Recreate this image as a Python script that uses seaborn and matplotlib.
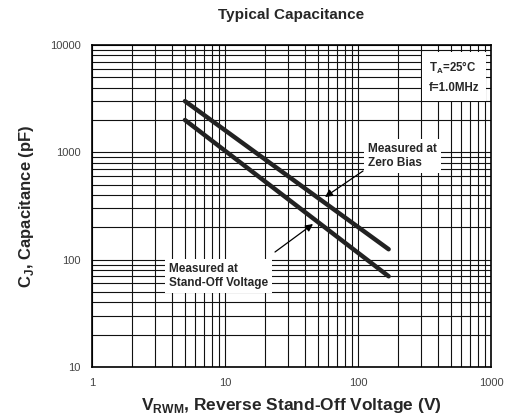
import matplotlib
matplotlib.use("Agg")
import matplotlib.pyplot as plt
import seaborn as sns
import pandas as pd
import numpy as np
from matplotlib.ticker import LogLocator, FixedLocator, NullFormatter, FixedFormatter

# Data
zero_bias_v = [5, 170]
zero_bias_c = [3000, 125]
standoff_v = [5, 170]
standoff_c = [2000, 70]
x_ticks = [1, 10, 100, 1000]
x_tick_labels = ["1", "10", "100", "1000"]
y_ticks = [10, 100, 1000, 10000]
y_tick_labels = ["10", "100", "1000", "10000"]

df = pd.concat([
    pd.DataFrame({"V": zero_bias_v, "C": zero_bias_c, "series": "Zero Bias"}),
    pd.DataFrame({"V": standoff_v, "C": standoff_c, "series": "Stand-Off"}),
])

sns.set_style("white")
plt.rcParams["font.family"] = ["Liberation Sans", "DejaVu Sans"]
plt.rcParams["mathtext.fontset"] = "custom"
plt.rcParams["mathtext.rm"] = "Liberation Sans"
plt.rcParams["mathtext.bf"] = "Liberation Sans:bold"

fig = plt.figure(figsize=(5.10, 4.19), dpi=100)
ax = fig.add_axes([92/510, 1-367/419, 399/510, 322/419])

sns.lineplot(data=df, x="V", y="C", units="series", estimator=None,
             color="#222222", lw=3.2, ax=ax, legend=False)
ax.set_xscale("log")
ax.set_yscale("log")
ax.set_xlim(1, 1000)
ax.set_ylim(10, 10000)

ax.xaxis.set_major_locator(FixedLocator(x_ticks))
ax.xaxis.set_major_formatter(FixedFormatter(x_tick_labels))
ax.yaxis.set_major_locator(FixedLocator(y_ticks))
ax.yaxis.set_major_formatter(FixedFormatter(y_tick_labels))
ax.xaxis.set_minor_locator(LogLocator(base=10, subs=np.arange(2, 10)))
ax.yaxis.set_minor_locator(LogLocator(base=10, subs=np.arange(2, 10)))
ax.xaxis.set_minor_formatter(NullFormatter())
ax.yaxis.set_minor_formatter(NullFormatter())

ax.grid(True, which="both", color="#111111", lw=0.8)
ax.set_axisbelow(True)
ax.tick_params(axis="both", which="major", direction="out", length=5, width=0.8,
               labelsize=8, color="black", labelcolor="#444444", pad=3)
ax.tick_params(axis="both", which="minor", length=0)
for s in ax.spines.values():
    s.set_color("black")
    s.set_linewidth(1.2)

ax.set_title("Typical Capacitance", fontsize=11, fontweight="bold", pad=19)
ax.set_xlabel(r"V$_{\mathbf{RWM}}$, Reverse Stand-Off Voltage (V)", fontsize=12.5,
              fontweight="bold", labelpad=6)
ax.set_ylabel(r"C$_{\mathbf{J}}$, Capacitance (pF)", fontsize=12, fontweight="bold",
              labelpad=10)

def af(px, py):
    return ((px - 92) / 399, (367 - py) / 322)

box = dict(facecolor="white", edgecolor="none", pad=3)
ax.text(*af(429, 77), "T$_{\\mathbf{A}}$=25°C\nf=1.0MHz", transform=ax.transAxes,
        fontsize=8.3, fontweight="bold", ha="left", va="center", linespacing=1.6,
        bbox=dict(facecolor="white", edgecolor="none", pad=5))
ax.text(*af(368, 156), "Measured at\nZero Bias", transform=ax.transAxes,
        fontsize=8.5, fontweight="bold", ha="left", va="center", linespacing=1.25,
        bbox=box)
ax.text(*af(169, 276), "Measured at\nStand-Off Voltage", transform=ax.transAxes,
        fontsize=8.5, fontweight="bold", ha="left", va="center", linespacing=1.25,
        bbox=box)

arrow = dict(arrowstyle="-|>", color="black", lw=0.9, mutation_scale=11,
             shrinkA=0, shrinkB=0)
ax.annotate("", xy=af(325, 197), xytext=af(363, 171), xycoords="axes fraction",
            textcoords="axes fraction", arrowprops=arrow)
ax.annotate("", xy=af(313, 224), xytext=af(275, 252), xycoords="axes fraction",
            textcoords="axes fraction", arrowprops=arrow)

fig.savefig("out.png", dpi=100)
